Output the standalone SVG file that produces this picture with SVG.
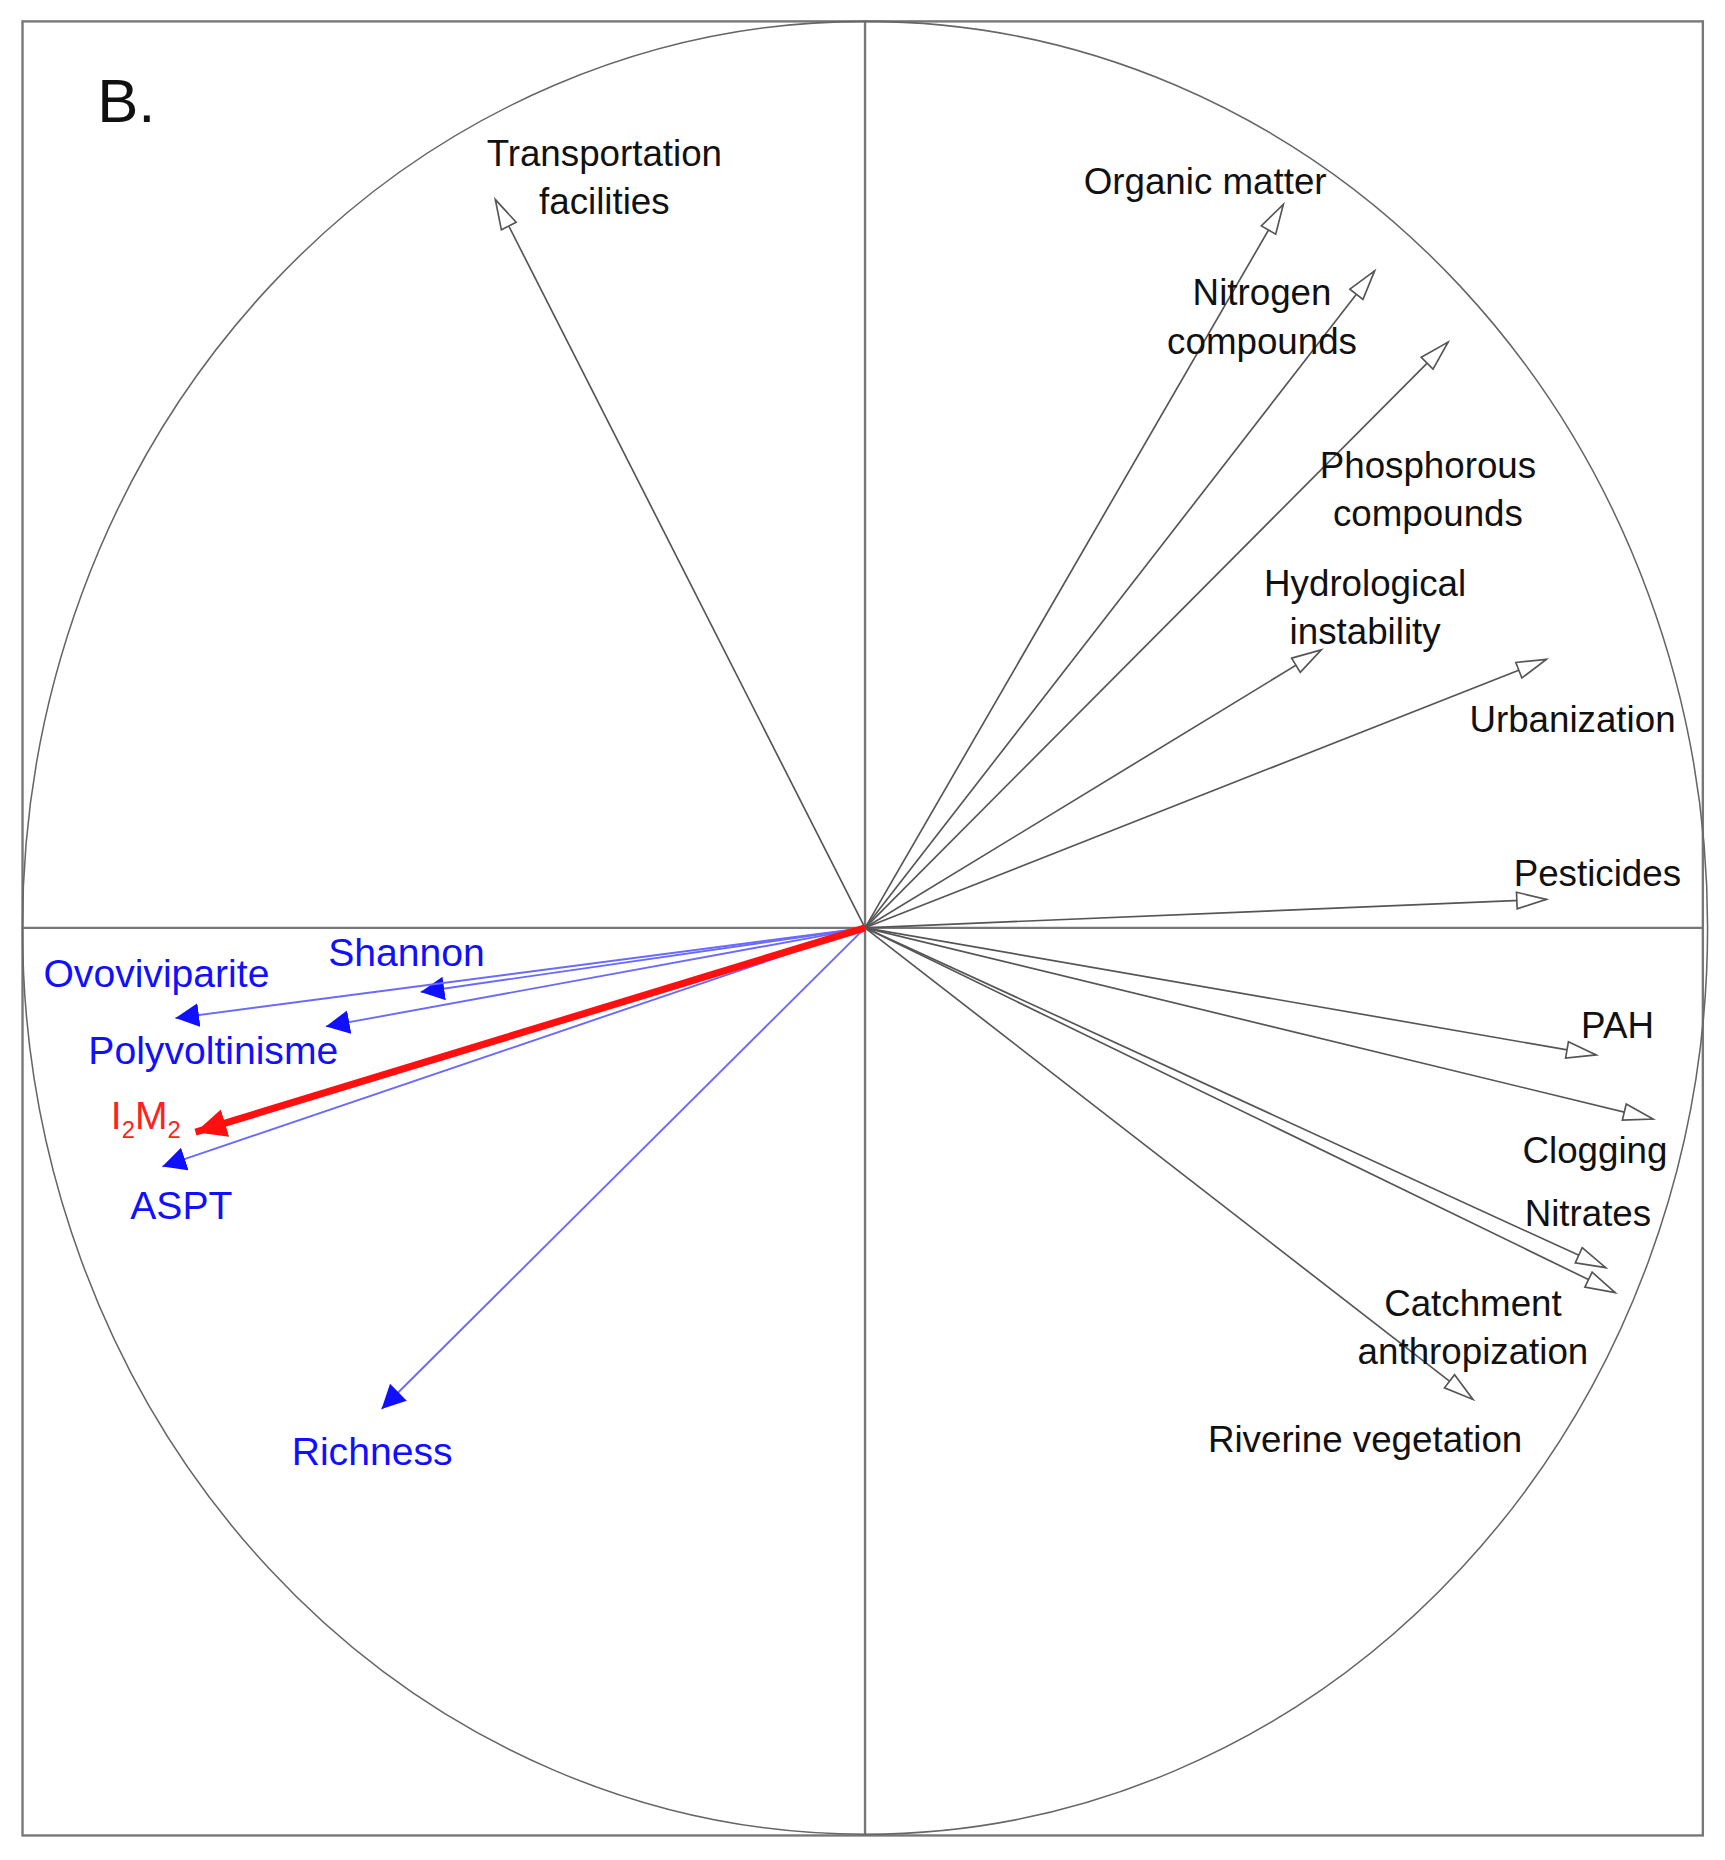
<svg xmlns="http://www.w3.org/2000/svg" width="1725" height="1860" viewBox="0 0 1725 1860">
<style>
text{font-family:"Liberation Sans",Arial,sans-serif;font-size:31px;text-anchor:middle}
.k{fill:#111}.b{fill:#1010ff;font-size:33px}.r{fill:#ff2020;font-size:33px}
.g{stroke:#555;stroke-width:1.4;fill:none}
.bl{stroke:#6a6aff;stroke-width:1.6;fill:none}
</style>
<defs>
<marker id="oa" markerUnits="userSpaceOnUse" markerWidth="40" markerHeight="30" refX="26" refY="8" orient="auto"><path d="M1,1 L26,8 L1,15 Z" fill="#fff" stroke="#555" stroke-width="1.4"/></marker>
<marker id="ba" markerUnits="userSpaceOnUse" markerWidth="30" markerHeight="30" refX="20" refY="10" orient="auto"><path d="M0,0 L20,10 L0,20 Z" fill="#1010ff"/></marker>
<marker id="ra" markerUnits="userSpaceOnUse" markerWidth="40" markerHeight="40" refX="26" refY="12" orient="auto"><path d="M0,0 L26,12 L0,24 Z" fill="#ff1010"/></marker>
</defs>
<rect width="1725" height="1860" fill="#fff"/>
<g transform="scale(1.185,1.188)">
<g id="frame">
<rect x="19" y="18" width="1418" height="1527" fill="none" stroke="#777" stroke-width="2"/>
<line x1="730" y1="18" x2="730" y2="1545" stroke="#777" stroke-width="2"/>
<line x1="19" y1="781" x2="1437" y2="781" stroke="#777" stroke-width="2"/>
<ellipse cx="730" cy="781" rx="711" ry="763" fill="none" stroke="#666" stroke-width="1.3"/>
<text x="82" y="103" style="font-size:52px;text-anchor:start" class="k">B.</text>
</g>
<g id="connectors">
<path class="g" marker-end="url(#oa)" d="M730,781 L418,168"/>
<path class="g" marker-end="url(#oa)" d="M730,781 L1083,172"/>
<path class="g" marker-end="url(#oa)" d="M730,781 L1160,228"/>
<path class="g" marker-end="url(#oa)" d="M730,781 L1222,288"/>
<path class="g" marker-end="url(#oa)" d="M730,781 L1115,547"/>
<path class="g" marker-end="url(#oa)" d="M730,781 L1305,555"/>
<path class="g" marker-end="url(#oa)" d="M730,781 L1305,757"/>
<path class="g" marker-end="url(#oa)" d="M730,781 L1347,888"/>
<path class="g" marker-end="url(#oa)" d="M730,781 L1395,942"/>
<path class="g" marker-end="url(#oa)" d="M730,781 L1355,1067"/>
<path class="g" marker-end="url(#oa)" d="M730,781 L1363,1088"/>
<path class="g" marker-end="url(#oa)" d="M730,781 L1243,1178"/>
<path class="bl" marker-end="url(#ba)" d="M730,781 L355,835"/>
<path class="bl" marker-end="url(#ba)" d="M730,781 L148,857"/>
<path class="bl" marker-end="url(#ba)" d="M730,781 L275,864"/>
<path class="bl" marker-end="url(#ba)" d="M730,781 L137,982"/>
<path class="bl" marker-end="url(#ba)" d="M730,781 L322,1186"/>
<path stroke="#ff1010" stroke-width="6" fill="none" marker-end="url(#ra)" d="M730,781 L165,953"/>
</g>
<g id="labels-env" class="k">
<text x="510" y="140" class="k">Transportation</text><text x="510" y="180" class="k">facilities</text>
<text x="1017" y="163" class="k">Organic matter</text>
<text x="1065" y="257" class="k">Nitrogen</text><text x="1065" y="298" class="k">compounds</text>
<text x="1205" y="402" class="k">Phosphorous</text><text x="1205" y="443" class="k">compounds</text>
<text x="1152" y="502" class="k">Hydrological</text><text x="1152" y="542" class="k">instability</text>
<text x="1327" y="616" class="k">Urbanization</text>
<text x="1348" y="746" class="k">Pesticides</text>
<text x="1365" y="874" class="k">PAH</text>
<text x="1346" y="979" class="k">Clogging</text>
<text x="1340" y="1032" class="k">Nitrates</text>
<text x="1243" y="1108" class="k">Catchment</text><text x="1243" y="1148" class="k">anthropization</text>
<text x="1152" y="1222" class="k">Riverine vegetation</text>
</g>
<g id="labels-bio">
<text x="343" y="813" class="b">Shannon</text>
<text x="132" y="831" class="b">Ovoviviparite</text>
<text x="180" y="896" class="b">Polyvoltinisme</text>
<text x="123" y="950" class="r">I<tspan style="font-size:20px" dy="8">2</tspan><tspan dy="-8">M</tspan><tspan style="font-size:20px" dy="8">2</tspan></text>
<text x="153" y="1026" class="b">ASPT</text>
<text x="314" y="1233" class="b">Richness</text>
</g>
</g>
</svg>
